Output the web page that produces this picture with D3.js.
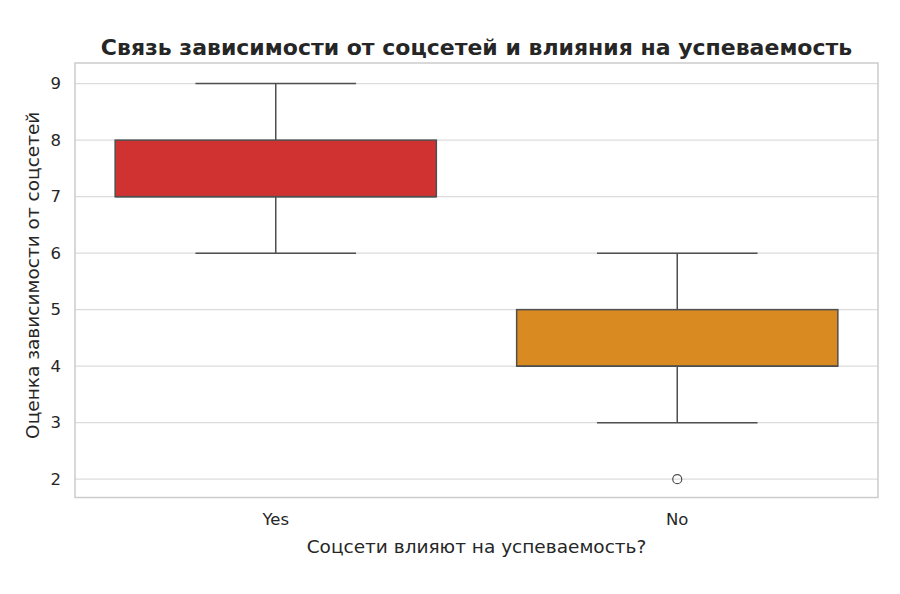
<!DOCTYPE html>
<html><head><meta charset="utf-8">
<script src="https://cdn.jsdelivr.net/npm/d3@7"></script>
<style>body{margin:0;background:#fff}svg{display:block}text{font-family:"DejaVu Sans",sans-serif;fill:#262626}</style>
</head><body><svg id="c" width="900" height="594"></svg>
<script>
const categories = ["Yes", "No"];
const q1 = [7, 4];
const median = [7, 4];
const q3 = [8, 5];
const whiskerLow = [6, 3];
const whiskerHigh = [9, 6];
const outliers = [[], [2]];
const colors = ["#d03232", "#d98a20"];
const yTicks = [2, 3, 4, 5, 6, 7, 8, 9];

const svg = d3.select("#c");
const L = 75, R = 878, T = 63, B = 497.5;
const x = d3.scaleBand().domain(categories).range([L, R]).padding(0);
const y = d3.scaleLinear().domain([1.675, 9.365]).range([B, T]);
const bw = x.bandwidth();

svg.append("g").selectAll("line").data(yTicks).join("line")
  .attr("x1", L).attr("x2", R).attr("y1", d => y(d)).attr("y2", d => y(d))
  .attr("stroke", "#dcdcdc").attr("stroke-width", 1.2);

const lc = "#4f4f4f";
const g = svg.append("g");
categories.forEach((c, i) => {
  const cx = x(c) + bw / 2;
  const w = bw * 0.8, cw = bw * 0.4;
  g.append("line").attr("x1", cx).attr("x2", cx).attr("y1", y(whiskerLow[i])).attr("y2", y(q1[i])).attr("stroke", lc).attr("stroke-width", 1.5);
  g.append("line").attr("x1", cx).attr("x2", cx).attr("y1", y(q3[i])).attr("y2", y(whiskerHigh[i])).attr("stroke", lc).attr("stroke-width", 1.5);
  g.append("line").attr("x1", cx - cw / 2).attr("x2", cx + cw / 2).attr("y1", y(whiskerLow[i])).attr("y2", y(whiskerLow[i])).attr("stroke", lc).attr("stroke-width", 1.5);
  g.append("line").attr("x1", cx - cw / 2).attr("x2", cx + cw / 2).attr("y1", y(whiskerHigh[i])).attr("y2", y(whiskerHigh[i])).attr("stroke", lc).attr("stroke-width", 1.5);
  g.append("rect").attr("x", cx - w / 2).attr("width", w).attr("y", y(q3[i])).attr("height", y(q1[i]) - y(q3[i]))
    .attr("fill", colors[i]).attr("stroke", lc).attr("stroke-width", 1.5);
  g.append("line").attr("x1", cx - w / 2).attr("x2", cx + w / 2).attr("y1", y(median[i])).attr("y2", y(median[i])).attr("stroke", lc).attr("stroke-width", 1.5);
  outliers[i].forEach(v => {
    g.append("circle").attr("cx", cx).attr("cy", y(v)).attr("r", 4.5).attr("fill", "none").attr("stroke", lc).attr("stroke-width", 1.2);
  });
});

svg.append("rect").attr("x", L).attr("y", T).attr("width", R - L).attr("height", B - T)
  .attr("fill", "none").attr("stroke", "#cccccc").attr("stroke-width", 1.5);

const ya = svg.append("g").attr("transform", `translate(${L},0)`)
  .call(d3.axisLeft(y).tickValues(yTicks).tickSize(0).tickPadding(14).tickFormat(d3.format("d")));
ya.select(".domain").remove();
ya.selectAll("text").attr("font-size", 16.5).attr("font-family", "DejaVu Sans").attr("fill", "#262626");

const xa = svg.append("g").attr("transform", `translate(0,${B})`)
  .call(d3.axisBottom(x).tickSize(0).tickPadding(16));
xa.select(".domain").remove();
xa.selectAll("text").attr("font-size", 16.5).attr("font-family", "DejaVu Sans").attr("fill", "#262626");

svg.append("text").attr("x", (L + R) / 2).attr("y", 553).attr("text-anchor", "middle")
  .attr("font-size", 18.5).text("Соцсети влияют на успеваемость?");
svg.append("text").attr("transform", `translate(39,${(T + B) / 2 - 5}) rotate(-90)`).attr("text-anchor", "middle")
  .attr("font-size", 18.5).text("Оценка зависимости от соцсетей");
svg.append("text").attr("x", (L + R) / 2).attr("y", 55).attr("text-anchor", "middle")
  .attr("font-size", 22).attr("font-weight", "bold").text("Связь зависимости от соцсетей и влияния на успеваемость");
</script></body></html>
